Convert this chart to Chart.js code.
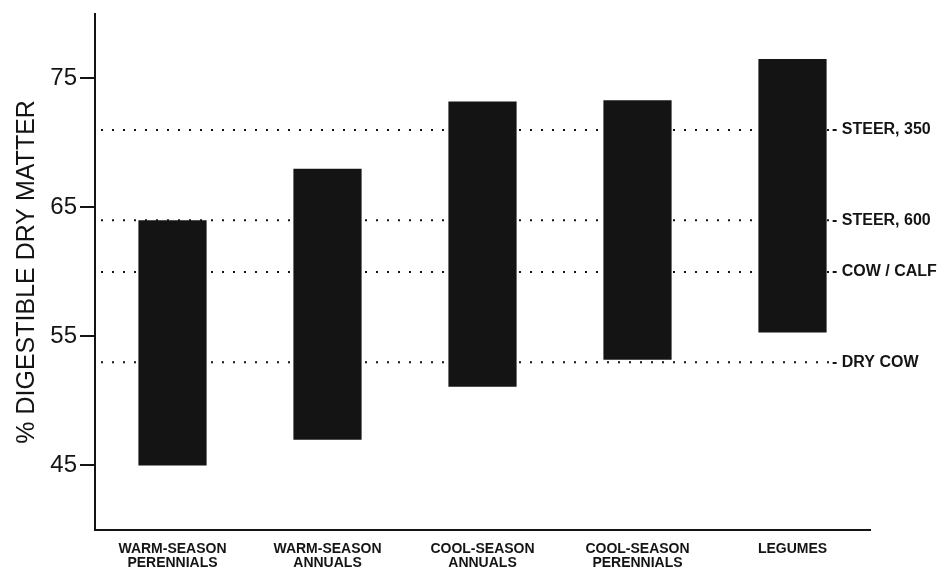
<!DOCTYPE html>
<html>
<head>
<meta charset="utf-8">
<title>Digestible dry matter by forage class</title>
<script src="https://cdn.jsdelivr.net/npm/chart.js@4.4.1/dist/chart.umd.min.js"></script>
<style>
  html, body { margin: 0; padding: 0; background: #fff; }
  #wrap { width: 951px; height: 570px; }
</style>
</head>
<body>
<div id="wrap"><canvas id="dmChart"></canvas></div>
<script>
// forage classes and their range of % digestible dry matter
const categories = [
  ['WARM-SEASON', 'PERENNIALS'],
  ['WARM-SEASON', 'ANNUALS'],
  ['COOL-SEASON', 'ANNUALS'],
  ['COOL-SEASON', 'PERENNIALS'],
  ['LEGUMES']
];
const lowValues = [45, 47, 51.1, 53.2, 55.3];
const highValues = [64, 68, 73.2, 73.3, 76.5];

// animal requirement levels (dotted lines)
const refLabels = ['STEER, 350', 'STEER, 600', 'COW / CALF', 'DRY COW'];
const refValues = [71, 64, 60, 53];

const yTicks = [45, 55, 65, 75];

const ink = '#141414';
const fontFam = '"Liberation Sans", Arial, Helvetica, sans-serif';

// dotted requirement lines drawn under the bars, labels to the right
const refLinesPlugin = {
  id: 'refLines',
  beforeDatasetsDraw(chart) {
    const {ctx, chartArea, scales} = chart;
    ctx.save();
    ctx.strokeStyle = ink;
    ctx.lineWidth = 2;
    ctx.setLineDash([2, 9]);
    refValues.forEach(v => {
      const y = scales.y.getPixelForValue(v);
      ctx.beginPath();
      ctx.moveTo(chartArea.left + 6, y);
      ctx.lineTo(chartArea.right - 40, y);
      ctx.stroke();
    });
    ctx.restore();
  },
  afterDraw(chart) {
    const {ctx, chartArea, scales} = chart;
    ctx.save();
    ctx.fillStyle = ink;
    ctx.font = 'bold 16px ' + fontFam;
    ctx.textBaseline = 'middle';
    refValues.forEach((v, i) => {
      const y = scales.y.getPixelForValue(v);
      ctx.fillText('- ' + refLabels[i], chartArea.right - 38, y);
    });
    ctx.restore();
  }
};

new Chart(document.getElementById('dmChart'), {
  type: 'bar',
  data: {
    labels: categories,
    datasets: [{
      data: lowValues.map((lo, i) => [lo, highValues[i]]),
      backgroundColor: ink,
      borderWidth: 0,
      barPercentage: 0.88,
      categoryPercentage: 0.5
    }]
  },
  options: {
    responsive: true,
    maintainAspectRatio: false,
    animation: false,
    layout: { padding: { top: 8, right: 81, left: 0, bottom: 0 } },
    plugins: {
      legend: { display: false },
      tooltip: { enabled: false }
    },
    scales: {
      x: {
        grid: { drawOnChartArea: false, drawTicks: false },
        border: { display: true, color: ink, width: 2 },
        ticks: {
          color: ink,
          font: { family: fontFam, size: 14, weight: 'bold', lineHeight: 1.0 },
          padding: 12,
          maxRotation: 0,
          autoSkip: false
        },
        afterFit(scale) { scale.height = 40; }
      },
      y: {
        min: 40,
        max: 80,
        afterBuildTicks(axis) { axis.ticks = yTicks.map(v => ({ value: v })); },
        grid: { drawOnChartArea: false, drawTicks: true, tickLength: 15, color: ink, lineWidth: 2 },
        border: { display: true, color: ink, width: 2 },
        ticks: {
          color: ink,
          font: { family: fontFam, size: 24, lineHeight: 0.9 },
          padding: 3
        },
        title: {
          display: true,
          text: '% DIGESTIBLE DRY MATTER',
          color: ink,
          font: { family: fontFam, size: 25 },
          padding: { top: 12, bottom: 4 }
        },
        afterFit(scale) { scale.width = 95; }
      }
    }
  },
  plugins: [refLinesPlugin]
});
</script>
</body>
</html>
